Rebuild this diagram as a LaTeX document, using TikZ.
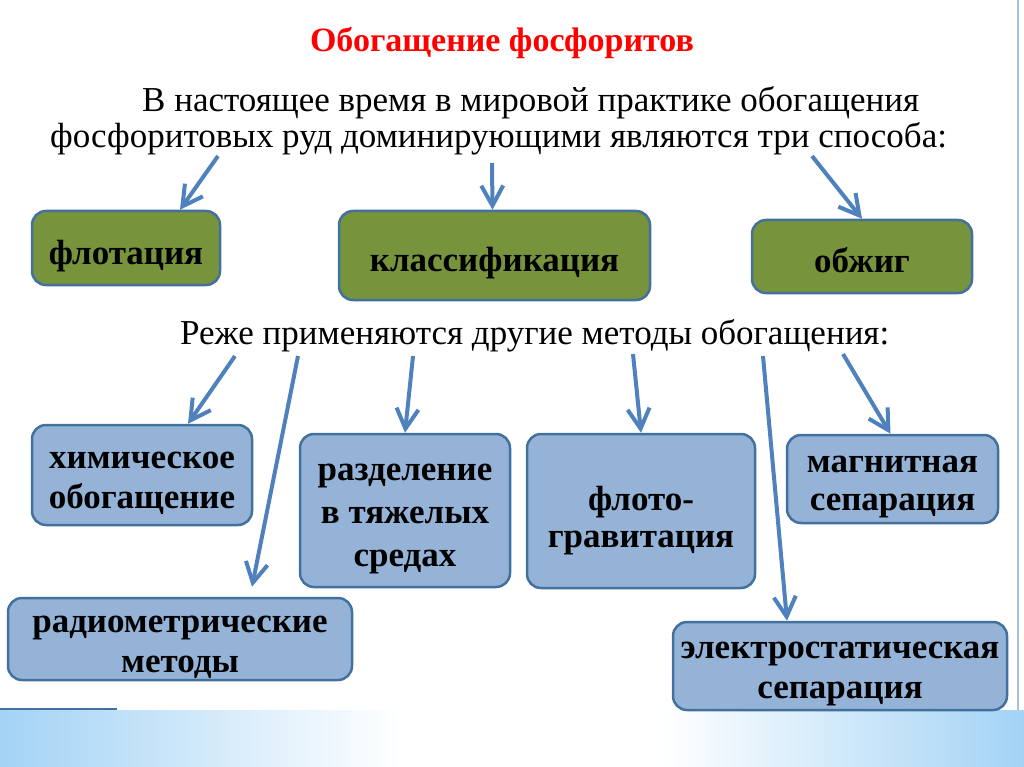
\documentclass[tikz,border=0pt]{standalone}
\usepackage{fontspec}
\setmainfont{Liberation Serif}
\usetikzlibrary{arrows.meta,shadings}
\definecolor{olivefill}{HTML}{77933C}
\definecolor{steelfill}{HTML}{95B3D7}
\definecolor{boxline}{HTML}{41719C}
\definecolor{arrowblue}{HTML}{4F81BD}
\definecolor{bandblue}{HTML}{A3D3F5}
\definecolor{frameline}{HTML}{A7BFD8}
\begin{document}
\begin{tikzpicture}[x=1pt,y=-1pt,
    box/.style={draw=boxline,line width=2.5pt,rounded corners=14pt,inner sep=0pt},
    greenbox/.style={box,fill=olivefill},
    bluebox/.style={box,fill=steelfill},
    lbl/.style={inner sep=0pt,align=center,yshift=-8pt,
        font=\fontsize{35}{40}\selectfont\bfseries},
    txt/.style={inner sep=0pt,anchor=base west,font=\fontsize{35}{40}\selectfont},
    arr/.style={draw=arrowblue,line width=4pt,
        -{Straight Barb[length=20pt,width=22pt,line width=4pt]}}]
    \useasboundingbox (0,0) rectangle (1024,767);
    \fill[white] (0,0) rectangle (1024,767);
    % bottom band
    \shade[left color=bandblue,right color=white] (0,710) rectangle (400,767);
    \shade[left color=white,right color=bandblue] (660,710) rectangle (1024,767);
    \draw[frameline,line width=1.5pt] (1018,0) -- (1018,710);
    \draw[boxline,line width=2pt] (0,709) -- (117,709);
    % texts
    \node[inner sep=0pt,text=red,font=\fontsize{34}{40}\selectfont\bfseries] (title) at (502,43) {Обогащение фосфоритов};
    \node[txt] (lineA) at (142,112) {В настоящее время в мировой практике обогащения};
    \node[txt] (lineB) at (50,148) {фосфоритовых руд доминирующими являются три способа:};
    \node[txt] (lineC) at (180,344) {Реже применяются другие методы обогащения:};
    % main methods
    \node[greenbox,minimum width=188pt,minimum height=74pt,
        label={[lbl,name=flotT]center:флотация}] (flot) at (126,248) {};
    \node[greenbox,minimum width=311pt,minimum height=89pt,
        label={[lbl,name=klassT]center:классификация}] (klass) at (494.5,255.5) {};
    \node[greenbox,minimum width=220pt,minimum height=73pt,
        label={[lbl,name=obzhT,yshift=4pt]center:обжиг}] (obzh) at (862,256.5) {};
    % other methods
    \node[bluebox,minimum width=220pt,minimum height=100pt,
        label={[lbl,name=khimT]center:{химическое\\обогащение}}] (khim) at (142,475) {};
    \node[bluebox,minimum width=210pt,minimum height=153pt,
        label={[lbl,name=razdT,font=\fontsize{35}{43}\selectfont\bfseries]center:{разделение\\в тяжелых\\средах}}] (razd) at (405,510.5) {};
    \node[bluebox,minimum width=228pt,minimum height=154pt,
        label={[lbl,name=flgrT,font=\fontsize{35}{37}\selectfont\bfseries,yshift=-2pt]center:{флото-\\гравитация}}] (flgr) at (641,511) {};
    \node[bluebox,minimum width=211pt,minimum height=88pt,
        label={[lbl,name=magnT,font=\fontsize{35}{38}\selectfont\bfseries]center:{магнитная\\сепарация}}] (magn) at (892.5,479) {};
    \node[bluebox,minimum width=344pt,minimum height=82pt,
        label={[lbl,name=radmT]center:{радиометрические\\методы}}] (radm) at (180,639) {};
    \node[bluebox,minimum width=334pt,minimum height=88pt,
        label={[lbl,name=elstT]center:{электростатическая\\сепарация}}] (elst) at (840,666) {};
    % arrow starts
    \coordinate (sA) at (218,156);
    \coordinate (sB) at (492,163);
    \coordinate (sC) at (812,156);
    \coordinate (sD) at (235,356);
    \coordinate (sE) at (298,356);
    \coordinate (sF) at (413,356);
    \coordinate (sG) at (633,354);
    \coordinate (sH) at (763,356);
    \coordinate (sI) at (843,354);
    \draw[arr] (sA) -- ([xshift=54pt]flot.north);
    \draw[arr] (sB) -- ([xshift=-2pt]klass.north);
    \draw[arr] (sC) -- (obzh.north);
    \draw[arr] (sD) -- ([xshift=46pt]khim.north);
    \draw[arr] (sE) -- ([xshift=72pt,yshift=10pt]radm.north);
    \draw[arr] (sF) -- (razd.north);
    \draw[arr] (sG) -- (flgr.north);
    \draw[arr] (sH) -- ([xshift=-53pt]elst.north);
    \draw[arr] (sI) -- ([xshift=-2pt]magn.north);
\end{tikzpicture}
\end{document}
